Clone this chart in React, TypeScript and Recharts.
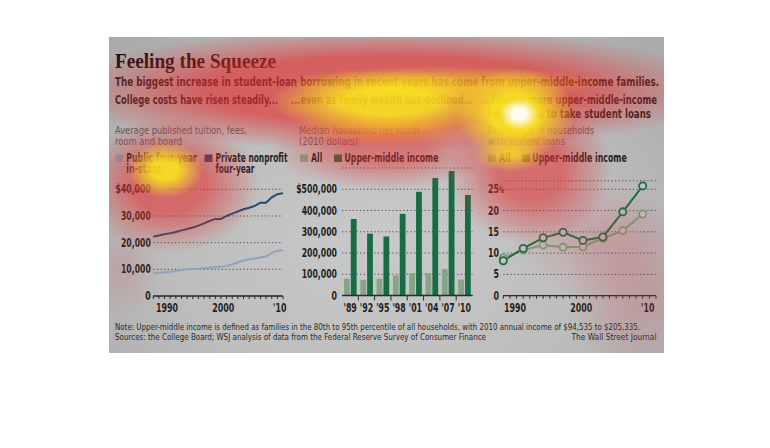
import React from "react";
import { LineChart, Line, BarChart, Bar, XAxis, YAxis, CartesianGrid } from "recharts";

// --- tuition (left panel) ---
const tuitionYears = [1988, 1989, 1990, 1991, 1992, 1993, 1994, 1995, 1996, 1997, 1998, 1999, 2000, 2001, 2002, 2003, 2004, 2005, 2006, 2007, 2008, 2009, 2010, 2011];
const publicTuition = [8500, 8700, 8900, 9100, 9400, 9700, 10000, 10100, 10200, 10400, 10600, 10800, 11000, 11200, 11800, 12600, 13300, 13800, 14100, 14400, 14800, 16200, 16900, 17200];
const privateTuition = [22200, 22700, 23200, 23500, 24000, 24600, 25100, 25700, 26400, 27200, 28100, 28900, 28900, 30000, 30900, 31700, 32500, 33100, 33800, 35000, 35000, 37000, 38200, 38500];
const tuitionTicks = [0, 10000, 20000, 30000, 40000];

// --- net worth (middle panel) ---
const wealthYears = ["'89", "'92", "'95", "'98", "'01", "'04", "'07", "'10"];
const wealthAll = [79000, 74000, 79000, 94000, 105000, 105000, 124000, 75000];
const wealthUpper = [360000, 291000, 278000, 384000, 488000, 553000, 586000, 473000];
const wealthTicks = [0, 100000, 200000, 300000, 400000, 500000];

// --- student loans (right panel) ---
const loanYears = [1989, 1992, 1995, 1998, 2001, 2004, 2007, 2010];
const loanAll = [8.9, 10.7, 11.9, 11.4, 11.5, 13.5, 15.3, 19.2];
const loanUpper = [8.2, 11.1, 13.6, 14.9, 13.0, 13.8, 19.7, 25.8];
const loanTicks = [0, 5, 10, 15, 20, 25];
const loanMinorTicks = [1989, 1990, 1991, 1992, 1993, 1994, 1995, 1996, 1997, 1998, 1999, 2000, 2001, 2002, 2003, 2004, 2005, 2006, 2007, 2008, 2009, 2010, 2011, 2012];

const tuitionData = tuitionYears.map((year, i) => ({ year, pub: publicTuition[i], priv: privateTuition[i] }));
const wealthData = wealthYears.map((year, i) => ({ year, all: wealthAll[i], upper: wealthUpper[i] }));
const loanData = loanYears.map((year, i) => ({ year, all: loanAll[i], upper: loanUpper[i] }));

const NARROW = "'Liberation Sans Narrow', 'DejaVu Sans Condensed', 'Roboto Condensed', 'Liberation Sans', sans-serif";
const INK = "#1e1e1e";
const SUB = "#5c5c5c";
const AXIS = "#2b2b2b";
const GRID = "#4a4a4a";
const NAVY = "#1d4a72";
const STEEL = "#8ea3b8";
const DKGREEN = "#176c45";
const LTGREEN = "#86a486";
const LOAN_UP = "#1f6b42";
const LOAN_ALL = "#7d9c78";
const BG = "#c2c2c2";

const fmtNum = (v: number) => v.toLocaleString("en-US");

// width of a narrow bold tick label, so the fallback font keeps the reference's width
const tw = (s: string) => s.split("").reduce((w, ch) => w + (ch === "," || ch === "'" ? 2.3 : 5.5), 0);

const Lbl = ({ x, y, dy, anchor = "middle", s }: any) => (
  <text x={x} y={y} dy={dy} textAnchor={anchor} fontFamily={NARROW} fontSize={11.5} fontWeight={700} fill={INK}
    textLength={tw(s)} lengthAdjust="spacingAndGlyphs">
    {s}
  </text>
);

const YTick = (p: any, fmt: (v: number) => string) => <Lbl x={p.x} y={p.y} dy={4} anchor="end" s={fmt(p.payload.value)} />;

const PctTick = (p: any) => (
  <g>
    <Lbl x={p.x} y={p.y} dy={4} anchor="end" s={String(p.payload.value)} />
    {p.payload.value === 25 && (
      <text x={p.x} y={p.y} dy={4} fontFamily={NARROW} fontSize={9} fontWeight={700} fill={INK}
        textLength={5} lengthAdjust="spacingAndGlyphs">%</text>
    )}
  </g>
);

const yearLabel = (v: number) => (v === 2010 ? "'10" : v % 10 === 0 ? String(v) : "");

const YearTick = (p: any, dx: number) => {
  const label = yearLabel(p.payload.value);
  if (!label) return <g />;
  return <Lbl x={p.x + dx} y={p.y} dy={13} s={label} />;
};

const BandTick = (p: any) => {
  const half = p.payload.offset || 8.15;
  return (
    <g>
      {p.index > 0 && <line x1={p.x - half} x2={p.x - half} y1={p.y} y2={p.y + 5} stroke={AXIS} strokeWidth={1} />}
      <Lbl x={p.x} y={p.y} dy={16.5} s={p.payload.value} />
    </g>
  );
};

function TuitionChart() {
  return (
    <LineChart width={180} height={140} data={tuitionData} margin={{ top: 9.3, right: 7, left: 0, bottom: 0 }}>
      <CartesianGrid vertical={false} stroke={GRID} strokeDasharray="1.2 2.4" />
      <XAxis dataKey="year" type="number" domain={[1988, 2011]} ticks={tuitionYears} interval={0} height={24}
        axisLine={{ stroke: AXIS, strokeWidth: 1.3 }} tickLine={{ stroke: AXIS }} tickSize={3} tickMargin={0}
        tick={(p: any) => YearTick(p, 2.4)} />
      <YAxis type="number" domain={[0, 40000]} ticks={tuitionTicks} interval={0} width={43.3} axisLine={false} tickLine={false}
        tickSize={0} tickMargin={2.5} tick={(p: any) => YTick(p, (v) => (v === 40000 ? "$40,000" : fmtNum(v)))} />
      <Line dataKey="pub" stroke={STEEL} strokeWidth={2} dot={false} isAnimationActive={false} />
      <Line dataKey="priv" stroke={NAVY} strokeWidth={2} dot={false} isAnimationActive={false} />
    </LineChart>
  );
}

function WealthChart() {
  return (
    <BarChart width={190} height={160} data={wealthData} margin={{ top: 8, right: 7.5, left: 0, bottom: 0 }} barGap={1}>
      <CartesianGrid vertical={false} stroke={GRID} strokeDasharray="1.2 2.4" />
      <XAxis dataKey="year" interval={0} height={24.5} axisLine={{ stroke: AXIS, strokeWidth: 1.3 }} tickLine={false}
        tickSize={0} tickMargin={0} tick={BandTick} />
      <YAxis type="number" domain={[0, 600000]} ticks={wealthTicks} interval={0} width={52} axisLine={false} tickLine={false}
        tickSize={0} tickMargin={5} tick={(p: any) => YTick(p, (v) => (v === 500000 ? "$500,000" : fmtNum(v)))} />
      <Bar dataKey="all" fill={LTGREEN} barSize={5.8} isAnimationActive={false} />
      <Bar dataKey="upper" fill={DKGREEN} barSize={5.8} isAnimationActive={false} />
    </BarChart>
  );
}

function LoanChart() {
  return (
    <LineChart width={185} height={150} data={loanData} margin={{ top: 10.8, right: 14, left: 0, bottom: 0 }}>
      <CartesianGrid vertical={false} stroke={GRID} strokeDasharray="1.2 2.4" />
      <XAxis dataKey="year" type="number" domain={[1989, 2012]} ticks={loanMinorTicks} interval={0} height={24.3}
        axisLine={{ stroke: AXIS, strokeWidth: 1.3 }} tickLine={{ stroke: AXIS }} tickSize={3} tickMargin={0}
        tick={(p: any) => YearTick(p, 5)} />
      <YAxis type="number" domain={[0, 27]} ticks={loanTicks} interval={0} width={18.3} axisLine={false} tickLine={false}
        tickSize={0} tickMargin={4.3} tick={PctTick} />
      <Line dataKey="all" stroke={LOAN_ALL} strokeWidth={2} isAnimationActive={false} activeDot={false}
        dot={{ r: 3.6, stroke: LOAN_ALL, strokeWidth: 1.8, fill: BG }} />
      <Line dataKey="upper" stroke={LOAN_UP} strokeWidth={2} isAnimationActive={false} activeDot={false}
        dot={{ r: 3.6, stroke: LOAN_UP, strokeWidth: 1.8, fill: BG }} />
    </LineChart>
  );
}

const T = (props: any) => {
  const { x, y, w, size = 11, weight = 400, fill = INK, family = NARROW, anchor = "start", children } = props;
  return (
    <text x={x} y={y} fontSize={size} fontWeight={weight} fill={fill} fontFamily={family} textAnchor={anchor}
      textLength={w} lengthAdjust="spacingAndGlyphs">
      {children}
    </text>
  );
};

const Sq = ({ x, y, c }: any) => <rect x={x} y={y} width={8} height={7.5} fill={c} />;

// heat-map overlay blobs: [cx, cy, rx, ry, rgb, alpha, plateau%]
const PANEL = { left: 109, top: 37, width: 555, height: 316 };
const heat: [number, number, number, number, string, number, number][] = [
  [390, 90, 335, 62, "228,45,45", 0.64, 55],
  [170, 185, 90, 68, "228,45,45", 0.58, 40],
  [385, 150, 115, 40, "228,45,45", 0.48, 35],
  [530, 170, 82, 75, "228,45,45", 0.56, 40],
  [635, 290, 70, 90, "210,60,70", 0.22, 20],
  [590, 235, 80, 60, "210,60,70", 0.18, 20],
  [120, 270, 40, 50, "210,60,70", 0.15, 10],
  [440, 84, 160, 18, "250,225,30", 0.5, 30],
  [390, 128, 100, 18, "250,200,40", 0.4, 20],
  [388, 102, 118, 32, "252,240,25", 0.8, 40],
  [515, 114, 60, 46, "252,240,25", 0.85, 40],
  [510, 155, 36, 17, "252,240,25", 0.6, 20],
  [165, 170, 38, 28, "252,240,25", 0.82, 35],
  [519, 114, 20, 16, "255,255,255", 0.92, 35],
];

export default function App() {
  return (
    <div style={{ position: "absolute", left: 0, top: 0, width: 770, height: 448, background: "#fff", overflow: "hidden" }}>
      <div style={{ position: "absolute", ...PANEL, background: "radial-gradient(ellipse at 50% 65%, #c9c9c9 0%, #bdbdbd 55%, #a9a9a9 100%)" }} />
      <div style={{ position: "absolute", left: 110, top: 180 }}><TuitionChart /></div>
      <div style={{ position: "absolute", left: 290, top: 160 }}><WealthChart /></div>
      <div style={{ position: "absolute", left: 485, top: 170 }}><LoanChart /></div>
      <svg width={770} height={448} style={{ position: "absolute", left: 0, top: 0 }}>
        <T x={115} y={68} w={161} size={20} weight={700} family="'Liberation Serif', 'DejaVu Serif', serif" fill="#1a1010">Feeling the Squeeze</T>
        <T x={115} y={86} w={544} size={12.5} weight={700}>The biggest increase in student-loan borrowing in recent years has come from upper-middle-income families.</T>
        <T x={115} y={104} w={163} size={12.5} weight={700}>College costs have risen steadily...</T>
        <T x={291} y={104} w={182} size={12.5} weight={700}>...even as family wealth has declined...</T>
        <T x={482} y={104} w={175} size={12.5} weight={700}>...forcing more upper-middle-income</T>
        <T x={488} y={117.5} w={163} size={12.5} weight={700}>households to take student loans</T>

        <T x={115} y={133.7} w={132} size={11} fill={SUB}>Average published tuition, fees,</T>
        <T x={115} y={144.7} w={67} size={11} fill={SUB}>room and board</T>
        <T x={299} y={133.7} w={121} size={11} fill={SUB}>Median household net worth</T>
        <T x={299} y={144.7} w={59} size={11} fill={SUB}>(2010 dollars)</T>
        <T x={488} y={133.7} w={106} size={11} fill={SUB}>Percentage of households</T>
        <T x={488} y={144.7} w={77} size={11} fill={SUB}>with student loans</T>

        <Sq x={115} y={154.5} c={STEEL} />
        <T x={126.3} y={162} w={70.7} size={11.5} weight={700}>Public four-year</T>
        <T x={126.3} y={173} w={35} size={11.5} weight={700}>in-state</T>
        <Sq x={204.5} y={154.5} c={NAVY} />
        <T x={215.5} y={162} w={72} size={11.5} weight={700}>Private nonprofit</T>
        <T x={215.5} y={173} w={39} size={11.5} weight={700}>four-year</T>

        <Sq x={300} y={154.5} c={LTGREEN} />
        <T x={311} y={162} w={11.5} size={11.5} weight={700}>All</T>
        <Sq x={334} y={154.5} c={DKGREEN} />
        <T x={344.5} y={162} w={94} size={11.5} weight={700}>Upper-middle income</T>

        <Sq x={488} y={154.5} c={LOAN_ALL} />
        <T x={499.3} y={162} w={11.5} size={11.5} weight={700}>All</T>
        <Sq x={522} y={154.5} c={LOAN_UP} />
        <T x={532.3} y={162} w={94.5} size={11.5} weight={700}>Upper-middle income</T>

        <T x={115} y={329.5} w={525} size={9.5} fill="#2a2a2a">Note: Upper-middle income is defined as families in the 80th to 95th percentile of all households, with 2010 annual income of $94,535 to $205,335.</T>
        <T x={115} y={340} w={371} size={9.5} fill="#2a2a2a">Sources: the College Board; WSJ analysis of data from the Federal Reserve Survey of Consumer Finance</T>
        <T x={656.5} y={340} w={85} size={9.5} fill="#2a2a2a" anchor="end">The Wall Street Journal</T>
      </svg>
      <div style={{ position: "absolute", ...PANEL, overflow: "hidden", pointerEvents: "none" }}>
        {heat.map(([cx, cy, rx, ry, rgb, a, h], i) => (
          <div key={i} style={{
            position: "absolute", left: cx - rx - PANEL.left, top: cy - ry - PANEL.top, width: rx * 2, height: ry * 2,
            background: `radial-gradient(ellipse closest-side, rgba(${rgb},${a}) 0%, rgba(${rgb},${a}) ${h}%, rgba(${rgb},0) 100%)`,
          }} />
        ))}
      </div>
    </div>
  );
}
